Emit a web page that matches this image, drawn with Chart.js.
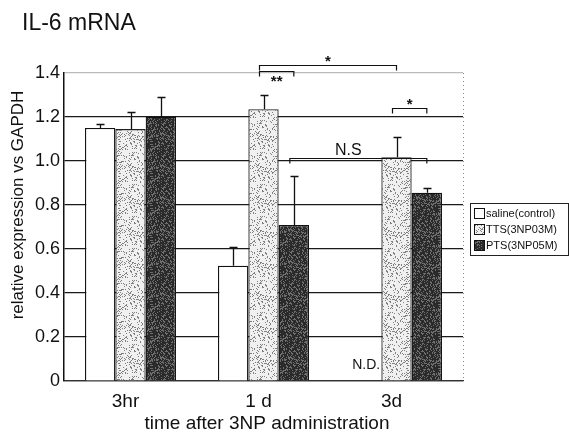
<!DOCTYPE html>
<html><head><meta charset="utf-8">
<script src="https://cdn.jsdelivr.net/npm/chart.js@4"></script>
<style>html,body{margin:0;padding:0;background:#fff;}#wrap{width:569px;height:434px;position:relative;}</style>
</head><body><div id="wrap"><canvas id="c" width="569" height="434"></canvas></div>
<script>
const categories = ['3hr', '1 d', '3d'];
const seriesNames = ['saline(control)', 'TTS(3NP03M)', 'PTS(3NP05M)'];
const salineValues = [1.15, 0.524, null];
const ttsValues = [1.145, 1.235, 1.017];
const ptsValues = [1.201, 0.709, 0.856];
const salineErrTop = [1.168, 0.61, null];
const ttsErrTop = [1.221, 1.299, 1.108];
const ptsErrTop = [1.292, 0.932, 0.876];
const yTicks = [0, 0.2, 0.4, 0.6, 0.8, 1.0, 1.2, 1.4];
// significance brackets: [category, dataset] endpoints, level, label
const bracketFrom = [[1, 1], [1, 1], [2, 1], [1, 2]];
const bracketTo = [[1, 2], [2, 1], [2, 2], [2, 2]];
const bracketLevel = [1.41, 1.436, 1.241, 1.014];
const bracketLabel = ['**', '*', '*', 'N.S'];
const ndLabel = 'N.D.';
const ndAt = [2, 0];
const ndLevel = 0.07;

function makePattern(bg, dot, thr) {
  const n = 32;
  const p = document.createElement('canvas');
  p.width = n; p.height = n;
  const g = p.getContext('2d');
  g.fillStyle = bg; g.fillRect(0, 0, n, n);
  g.fillStyle = dot;
  for (let i = 0; i < n; i++) for (let j = 0; j < n; j++) {
    const h = (i * 73 + j * 151 + i * j * 37 + i * i * 11 + j * j * 29) % 97;
    if (h < thr) g.fillRect(i, j, 1, 1);
  }
  return document.getElementById('c').getContext('2d').createPattern(p, 'repeat');
}
const ttsFill = makePattern('#f0f0f0', '#808080', 18);
const ptsFill = makePattern('#2a2a2a', '#6e6e6e', 30);

const errTops = [salineErrTop, ttsErrTop, ptsErrTop];
const FONT = '"Liberation Sans", Arial, sans-serif';

const overlay = {
  id: 'overlay',
  afterDatasetsDraw(chart) {
    const ctx = chart.ctx;
    const y = chart.scales.y;
    ctx.save();
    errTops.forEach((arr, di) => {
      const meta = chart.getDatasetMeta(di);
      arr.forEach((v, ci) => {
        if (v == null) return;
        const el = meta.data[ci];
        const x = Math.round(el.x) + 0.5, yt = Math.round(y.getPixelForValue(v)) + 0.5;
        ctx.strokeStyle = '#111'; ctx.lineWidth = 1.3;
        ctx.beginPath(); ctx.moveTo(x, el.y); ctx.lineTo(x, yt);
        ctx.moveTo(x - 4, yt); ctx.lineTo(x + 4, yt); ctx.stroke();
      });
    });
    ctx.restore();
  },
  afterDraw(chart) {
    const ctx = chart.ctx;
    const y = chart.scales.y, ca = chart.chartArea;
    ctx.save();
    ctx.strokeStyle = '#888'; ctx.lineWidth = 1; ctx.setLineDash([1, 3]);
    ctx.beginPath(); ctx.moveTo(ca.right + 0.5, ca.top); ctx.lineTo(ca.right + 0.5, ca.bottom); ctx.stroke();
    ctx.setLineDash([]);
    ctx.strokeStyle = '#111'; ctx.fillStyle = '#111'; ctx.lineWidth = 1.2;
    bracketLabel.forEach((lab, i) => {
      const x1 = chart.getDatasetMeta(bracketFrom[i][1]).data[bracketFrom[i][0]].x - 4;
      const x2 = chart.getDatasetMeta(bracketTo[i][1]).data[bracketTo[i][0]].x;
      const yy = Math.round(y.getPixelForValue(bracketLevel[i])) + 0.5;
      ctx.beginPath();
      ctx.moveTo(x1, yy + 5); ctx.lineTo(x1, yy); ctx.lineTo(x2, yy); ctx.lineTo(x2, yy + 5);
      ctx.stroke();
      ctx.font = (lab === 'N.S' ? '16px ' : 'bold 15px ') + FONT;
      ctx.textAlign = 'center';
      if (lab === '**') { ctx.textBaseline = 'top'; ctx.fillText(lab, (x1 + x2) / 2, yy + 3); }
      else if (lab === 'N.S') { ctx.textBaseline = 'bottom'; ctx.fillText(lab, (x1 + x2) / 2 - 10, yy); }
      else { ctx.textBaseline = 'bottom'; ctx.fillText(lab, (x1 + x2) / 2, yy + 4); }
    });
    const nd = chart.getDatasetMeta(ndAt[1]).data[ndAt[0]];
    ctx.font = '14px ' + FONT;
    ctx.textAlign = 'center'; ctx.textBaseline = 'middle';
    ctx.fillText(ndLabel, nd.x, y.getPixelForValue(ndLevel));
    ctx.font = '23px ' + FONT;
    ctx.textAlign = 'left'; ctx.textBaseline = 'middle';
    ctx.fillText('IL-6 mRNA', 22, 24);
    ctx.font = '19px ' + FONT;
    ctx.textAlign = 'center';
    ctx.fillText('time after 3NP administration', 267, 424);
    ctx.save();
    ctx.font = '17px ' + FONT;
    ctx.translate(18, 205); ctx.rotate(-Math.PI / 2);
    ctx.fillText('relative expression vs GAPDH', 0, 0);
    ctx.restore();
    const lx = 470, ly = 203;
    ctx.fillStyle = '#fff'; ctx.strokeStyle = '#222'; ctx.lineWidth = 1;
    ctx.fillRect(lx, ly, 98, 52); ctx.strokeRect(lx + 0.5, ly + 0.5, 98, 52);
    ctx.font = '11px "Liberation Sans Narrow", ' + FONT;
    ctx.textAlign = 'left'; ctx.textBaseline = 'middle';
    chart.data.datasets.forEach((ds, i) => {
      const yy = ly + 10 + i * 16;
      ctx.fillStyle = ds.backgroundColor; ctx.fillRect(lx + 4, yy - 5, 10, 10);
      ctx.strokeStyle = '#111'; ctx.strokeRect(lx + 4.5, yy - 4.5, 10, 10);
      ctx.fillStyle = '#111'; ctx.fillText(ds.label, lx + 16, yy + 1);
    });
    ctx.restore();
  }
};

new Chart(document.getElementById('c'), {
  type: 'bar',
  plugins: [overlay],
  data: {
    labels: categories,
    datasets: [
      { label: seriesNames[0], data: salineValues, backgroundColor: '#ffffff', borderColor: '#111', borderWidth: 1.3 },
      { label: seriesNames[1], data: ttsValues, backgroundColor: ttsFill, borderColor: '#222', borderWidth: 1.3 },
      { label: seriesNames[2], data: ptsValues, backgroundColor: ptsFill, borderColor: '#111', borderWidth: 1.3 }
    ]
  },
  options: {
    responsive: false,
    animation: false,
    devicePixelRatio: 1,
    layout: { padding: { top: 73, right: 106, left: 0, bottom: 0 } },
    plugins: { legend: { display: false }, tooltip: { enabled: false }, title: { display: false } },
    datasets: { bar: { categoryPercentage: 0.684, barPercentage: 1.0 } },
    scales: {
      x: {
        grid: { display: false, drawTicks: false },
        border: { color: '#333', width: 1.3 },
        ticks: { color: '#111', font: { size: 19, family: FONT }, padding: 9, labelOffset: -5 },
        afterFit(s) { s.height = 53; }
      },
      y: {
        min: 0, max: 1.4,
        afterBuildTicks(s) { s.ticks = yTicks.map(v => ({ value: v })); },
        grid: {
          color: (c) => c.tick && c.tick.value >= 1.4 ? '#bbb' : '#1a1a1a',
          lineWidth: 1.2, drawTicks: false
        },
        border: { color: '#111', width: 1.5 },
        ticks: {
          color: '#111', padding: 4,
          font: { size: 18, family: FONT },
          callback: (v) => v === 0 ? '0' : Number(v).toFixed(1)
        },
        afterFit(s) { s.width = 64; }
      }
    }
  }
});
</script></body></html>
